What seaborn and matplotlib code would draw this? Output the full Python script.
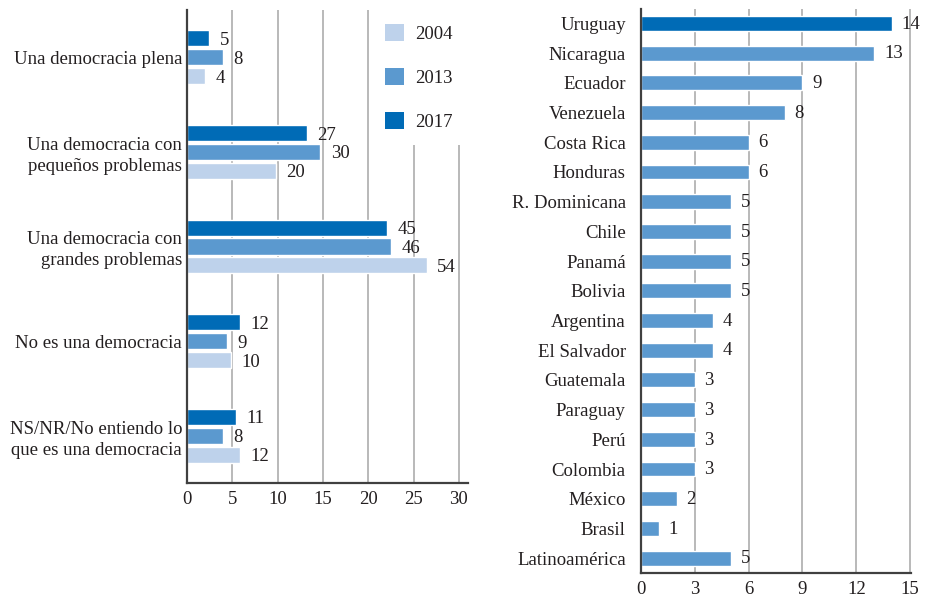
import numpy as np
import pandas as pd
import matplotlib
matplotlib.use("Agg")
import matplotlib.pyplot as plt
import seaborn as sns
from matplotlib.patches import Patch

# ---------------- data ----------------
left_categories = [
    "Una democracia plena",
    "Una democracia con\npequeños problemas",
    "Una democracia con\ngrandes problemas",
    "No es una democracia",
    "NS/NR/No entiendo lo\nque es una democracia",
]
years = ["2004", "2013", "2017"]
vals_2004 = [4, 20, 54, 10, 12]
vals_2013 = [8, 30, 46, 9, 8]
vals_2017 = [5, 27, 45, 12, 11]

countries = ["Uruguay", "Nicaragua", "Ecuador", "Venezuela", "Costa Rica", "Honduras",
             "R. Dominicana", "Chile", "Panamá", "Bolivia", "Argentina", "El Salvador",
             "Guatemala", "Paraguay", "Perú", "Colombia", "México", "Brasil", "Latinoamérica"]
country_vals = [14, 13, 9, 8, 6, 6, 5, 5, 5, 5, 4, 4, 3, 3, 3, 3, 2, 1, 5]
left_ticks = [0, 5, 10, 15, 20, 25, 30]
right_ticks = [0, 3, 6, 9, 12, 15]

# ---------------- style ----------------
sns.set_theme(style="white")
plt.rcParams["font.family"] = ["Liberation Serif", "DejaVu Serif"]
TXT = "#231f20"
C_DARK = "#006bb6"
C_MID = "#5b99cf"
C_LIGHT = "#bed2eb"
GRID = "#a6a6a6"
SPINE = "#404040"
FS = 13.5
# in the source, the left bars are drawn at about half the scale of the axis labels
LEFT_SCALE = 0.49

fig = plt.figure(figsize=(9.26, 5.97), dpi=100)
ax1 = fig.add_axes([187 / 926, 1 - 483 / 597, 281 / 926, 473 / 597])
ax2 = fig.add_axes([641 / 926, 1 - 573 / 597, 270 / 926, 564.4 / 597])

# ---------------- left chart ----------------
df_left = pd.DataFrame({
    "cat": left_categories * 3,
    "year": ["2004"] * 5 + ["2013"] * 5 + ["2017"] * 5,
    "val": vals_2004 + vals_2013 + vals_2017,
})
pal_left = {"2004": C_LIGHT, "2013": C_MID, "2017": C_DARK}
sns.barplot(data=df_left, y="cat", x="val", hue="year", hue_order=["2017", "2013", "2004"],
            order=left_categories, palette=pal_left, orient="h", width=0.6, gap=0.15,
            saturation=1, legend=False, ax=ax1, zorder=3)
for cont in ax1.containers:
    for t in ax1.bar_label(cont, padding=7.5, fontsize=FS, color=TXT):
        t.xyann = (7.5, -1.5)

ax1.set_xlim(0, 31 / LEFT_SCALE)
ax1.set_ylim(len(left_categories) - 0.5, -0.5)
ax1.set_xticks([t / LEFT_SCALE for t in left_ticks])
ax1.set_xticklabels([str(t) for t in left_ticks])
ax1.grid(axis="x", color=GRID, linewidth=1.1, zorder=0)
ax1.set_axisbelow(True)

leg = ax1.legend(handles=[Patch(facecolor=pal_left[y], edgecolor="none", label=y) for y in years],
                 loc="upper left", bbox_to_anchor=(0.655, 1.0), frameon=True, fontsize=FS,
                 handlelength=1.0, handleheight=1.0, handletextpad=0.6, labelspacing=1.35,
                 borderpad=0.75, borderaxespad=0, fancybox=False)
leg.get_frame().set_facecolor("white")
leg.get_frame().set_edgecolor("none")
leg.get_frame().set_alpha(1)
for t in leg.get_texts():
    t.set_color(TXT)

# ---------------- right chart ----------------
df_right = pd.DataFrame({"country": countries, "val": country_vals})
pal_right = {c: (C_DARK if c == "Uruguay" else C_MID) for c in countries}
sns.barplot(data=df_right, y="country", x="val", hue="country", order=countries,
            palette=pal_right, orient="h", width=0.5, saturation=1, legend=False,
            ax=ax2, zorder=3)
for cont in ax2.containers:
    for t in ax2.bar_label(cont, padding=7, fontsize=FS, color=TXT):
        t.xyann = (7, -0.5)
ax2.set_xlim(0, 15.05)
ax2.set_ylim(len(countries) - 0.5, -0.5)
ax2.set_xticks(right_ticks)
ax2.grid(axis="x", color=GRID, linewidth=1.1, zorder=0)
ax2.set_axisbelow(True)

for ax, ypad in ((ax1, 3.6), (ax2, 11)):
    ax.set_xlabel("")
    ax.set_ylabel("")
    for s in ("top", "right"):
        ax.spines[s].set_visible(False)
    for s in ("left", "bottom"):
        ax.spines[s].set_color(SPINE)
        ax.spines[s].set_linewidth(1.6)
        ax.spines[s].set_zorder(5)
    ax.tick_params(axis="both", length=0, labelsize=FS, labelcolor=TXT)
    ax.tick_params(axis="y", pad=ypad)
    ax.tick_params(axis="x", pad=6)
    for lbl in ax.get_yticklabels():
        lbl.set_linespacing(1.3)

fig.savefig("out.png", dpi=100)
